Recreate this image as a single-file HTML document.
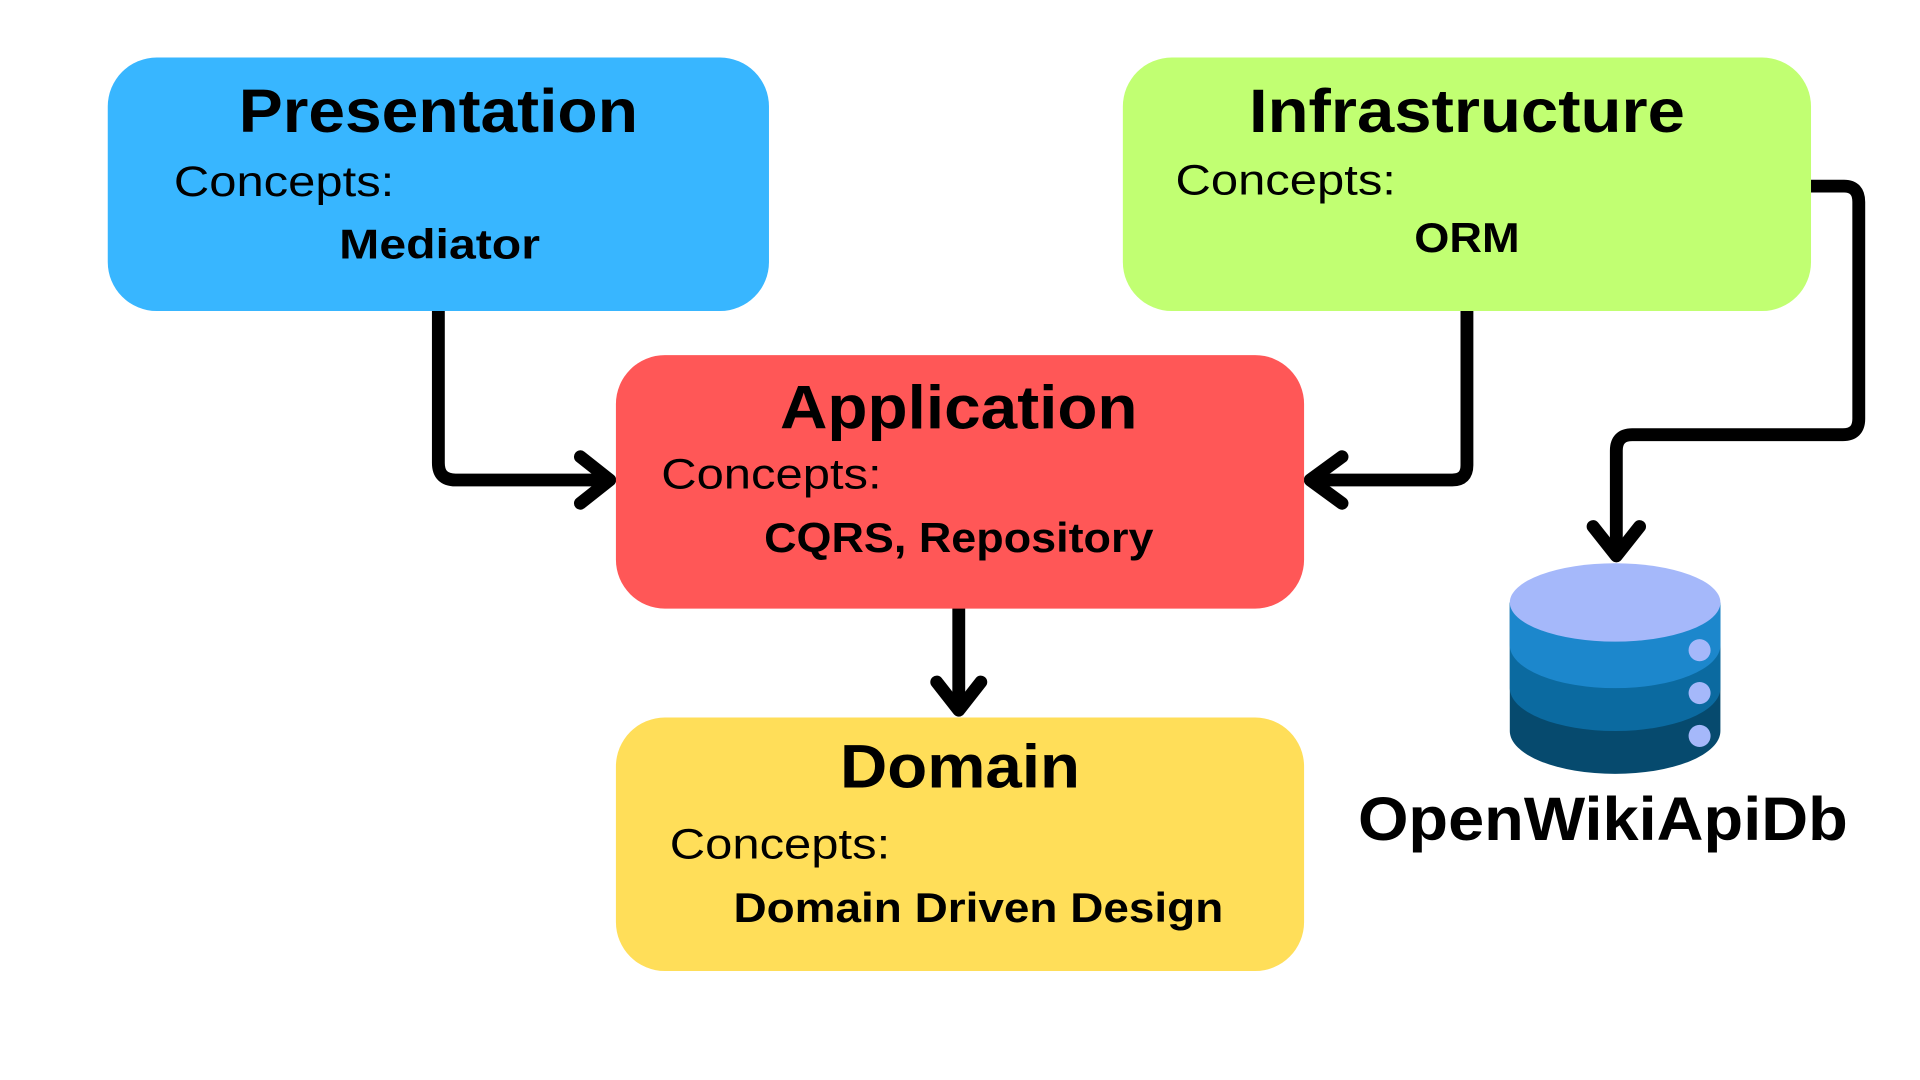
<!DOCTYPE html>
<html><head><meta charset="utf-8"><style>
html,body{margin:0;padding:0;background:#fff;width:1920px;height:1080px;overflow:hidden}
svg{display:block}
text{font-family:"Liberation Sans",sans-serif;fill:#000}
.t{font-weight:bold;font-size:50px}
.c{font-size:35px}
.b{font-weight:bold;font-size:34px}
</style></head><body>
<svg width="1920" height="1080" viewBox="0 0 1568 882" xmlns="http://www.w3.org/2000/svg">
<rect x="0" y="0" width="1568" height="882" fill="#fff"/>
<!-- connectors -->
<g fill="none" stroke="#000" stroke-width="10.5" stroke-linecap="butt" stroke-linejoin="round">
<path d="M358 250 V378 Q358 392 372 392 H496"/>
<path d="M1198 250 V380 Q1198 392 1186 392 H1072"/>
<path d="M783 493 V578"/>
<path d="M1475 152 H1506 Q1518 152 1518 165 V342 Q1518 355 1505 355 H1333 Q1320 355 1320 368 V452"/>
</g>
<g fill="none" stroke="#000" stroke-width="10.5" stroke-linecap="round" stroke-linejoin="round">
<path d="M474 373 L498 392 L474 411"/>
<path d="M1096 373 L1070 392 L1096 411"/>
<path d="M765 557 L783 580 L801 557"/>
<path d="M1301 430 L1320 454 L1339 430"/>
</g>
<!-- boxes -->
<rect x="88" y="47" width="540" height="207" rx="40" fill="#38b6ff"/>
<rect x="917" y="47" width="562" height="207" rx="40" fill="#c1ff72"/>
<rect x="503" y="290" width="562" height="207" rx="40" fill="#ff5757"/>
<rect x="503" y="586" width="562" height="207" rx="40" fill="#ffde59"/>
<!-- database -->
<g>
<path d="M1233 492 V597 A86 35 0 0 0 1405 597 V492 Z" fill="#064a6e"/>
<path d="M1233 492 V562 A86 35 0 0 0 1405 562 V492 Z" fill="#0b6aa0"/>
<path d="M1233 492 V527 A86 35 0 0 0 1405 527 V492 Z" fill="#1c87cc"/>
<ellipse cx="1319" cy="492" rx="86" ry="32" fill="#a5b8fa"/>
<circle cx="1388" cy="531" r="9" fill="#a5b8fa"/>
<circle cx="1388" cy="566" r="9" fill="#a5b8fa"/>
<circle cx="1388" cy="601" r="9" fill="#a5b8fa"/>
</g>
<!-- text -->
<text class="t" x="358" y="108" text-anchor="middle" textLength="326" lengthAdjust="spacingAndGlyphs">Presentation</text>
<text class="c" x="142" y="160" textLength="180" lengthAdjust="spacingAndGlyphs">Concepts:</text>
<text class="b" x="359" y="211" text-anchor="middle" textLength="164" lengthAdjust="spacingAndGlyphs">Mediator</text>

<text class="t" x="1198" y="108" text-anchor="middle" textLength="356" lengthAdjust="spacingAndGlyphs">Infrastructure</text>
<text class="c" x="960" y="159" textLength="180" lengthAdjust="spacingAndGlyphs">Concepts:</text>
<text class="b" x="1198" y="206" text-anchor="middle" textLength="86" lengthAdjust="spacingAndGlyphs">ORM</text>

<text class="t" x="783" y="350" text-anchor="middle" textLength="292" lengthAdjust="spacingAndGlyphs">Application</text>
<text class="c" x="540" y="399" textLength="180" lengthAdjust="spacingAndGlyphs">Concepts:</text>
<text class="b" x="783" y="451" text-anchor="middle" textLength="318" lengthAdjust="spacingAndGlyphs">CQRS, Repository</text>

<text class="t" x="784" y="643" text-anchor="middle" textLength="196" lengthAdjust="spacingAndGlyphs">Domain</text>
<text class="c" x="547" y="701" textLength="180" lengthAdjust="spacingAndGlyphs">Concepts:</text>
<text class="b" x="799" y="753" text-anchor="middle" textLength="400" lengthAdjust="spacingAndGlyphs">Domain Driven Design</text>

<text class="t" x="1309" y="686" text-anchor="middle" textLength="400" lengthAdjust="spacingAndGlyphs">OpenWikiApiDb</text>
</svg>
</body></html>
